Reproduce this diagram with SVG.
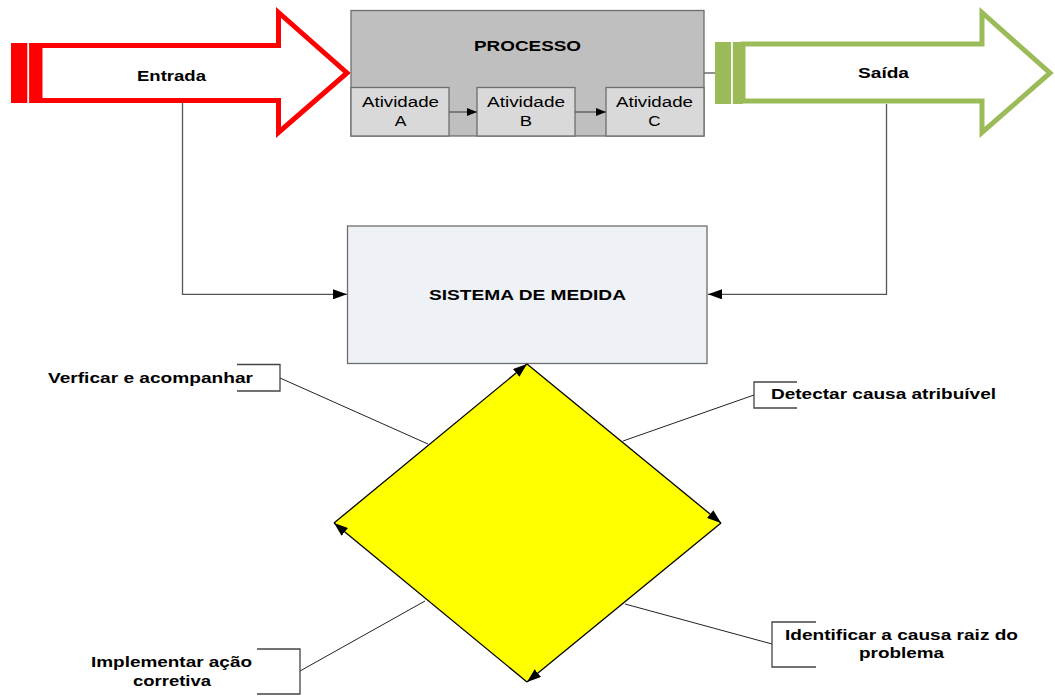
<svg xmlns="http://www.w3.org/2000/svg" width="1055" height="696" viewBox="0 0 1055 696">
<defs>
<style>
.b{font-family:"Liberation Sans",Arial,sans-serif;font-weight:bold;font-size:15.5px;fill:#000}
.r{font-family:"Liberation Sans",Arial,sans-serif;font-size:15.5px;fill:#000}
.ln{fill:none;stroke:#222;stroke-width:1}
.br{fill:none;stroke:#444;stroke-width:1.3}
.cn{fill:none;stroke:#555;stroke-width:1.3}
</style>
<marker id="ah" viewBox="0 0 14 10" refX="14" refY="5" markerWidth="14" markerHeight="10" markerUnits="userSpaceOnUse" orient="auto">
<path d="M0,0 L14,5 L0,10 z" fill="#000"/>
</marker>
<marker id="ahs" viewBox="0 0 10 8" refX="10" refY="4" markerWidth="10" markerHeight="8" markerUnits="userSpaceOnUse" orient="auto">
<path d="M0,0 L10,4 L0,8 z" fill="#000"/>
</marker>
</defs>
<rect width="1055" height="696" fill="#fff"/>

<g id="connectors">
<path class="cn" d="M182.5,103 V294.3 H347" marker-end="url(#ah)"/>
<path class="cn" d="M886.5,104 V294.3 H708" marker-end="url(#ah)"/>
<path class="cn" d="M704,73 H716"/>
<path class="ln" d="M280,378 L428,444"/>
<path class="ln" d="M754,395 L623,441"/>
<path class="ln" d="M300,671 L425,601"/>
<path class="ln" d="M772,644 L625,604"/>
</g>

<g id="entrada">
<polygon points="40,45.5 278.5,45.5 278.5,12.5 347,73 278.5,132.5 278.5,100.5 40,100.5" fill="#fff" stroke="#FF0000" stroke-width="5" stroke-linejoin="miter"/>
<rect x="11" y="43" width="29" height="60" fill="#FF0000"/>
<rect x="27.3" y="43" width="1.8" height="60" fill="#fff"/>
<text class="b" x="171.5" y="81" text-anchor="middle" textLength="69" lengthAdjust="spacingAndGlyphs">Entrada</text>
</g>

<g id="processo">
<rect x="351" y="10.5" width="353" height="125.5" fill="#BFBFBF" stroke="#6E6E6E" stroke-width="1.3"/>
<text class="b" x="527.5" y="50.5" text-anchor="middle" textLength="107" lengthAdjust="spacingAndGlyphs">PROCESSO</text>
</g>

<g id="atividade-a">
<rect x="351" y="87.5" width="98" height="48.5" fill="#D9D9D9" stroke="#6E6E6E" stroke-width="1.3"/>
<text class="r" x="400.5" y="107" text-anchor="middle" textLength="77" lengthAdjust="spacingAndGlyphs">Atividade</text>
<text class="r" x="400.5" y="126" text-anchor="middle" textLength="11.7" lengthAdjust="spacingAndGlyphs">A</text>
</g>
<g id="atividade-b">
<rect x="477" y="87.5" width="98" height="48.5" fill="#D9D9D9" stroke="#6E6E6E" stroke-width="1.3"/>
<text class="r" x="526" y="107" text-anchor="middle" textLength="78" lengthAdjust="spacingAndGlyphs">Atividade</text>
<text class="r" x="526" y="126" text-anchor="middle" textLength="12.3" lengthAdjust="spacingAndGlyphs">B</text>
</g>
<g id="atividade-c">
<rect x="606" y="87.5" width="98" height="48.5" fill="#D9D9D9" stroke="#6E6E6E" stroke-width="1.3"/>
<text class="r" x="654.5" y="107" text-anchor="middle" textLength="77" lengthAdjust="spacingAndGlyphs">Atividade</text>
<text class="r" x="654.5" y="126" text-anchor="middle" textLength="12.3" lengthAdjust="spacingAndGlyphs">C</text>
</g>
<g id="activity-links">
<path class="cn" d="M449,112 H477" marker-end="url(#ahs)"/>
<path class="cn" d="M575,112 H606" marker-end="url(#ahs)"/>
</g>

<g id="saida">
<polygon points="743,44 982,44 982,12.5 1050,73 982,132.5 982,101 743,101" fill="#fff" stroke="#9BBB59" stroke-width="5" stroke-linejoin="miter"/>
<rect x="715" y="42" width="28" height="62" fill="#9BBB59"/>
<rect x="731" y="42" width="1.8" height="62" fill="#fff"/>
<text class="b" x="883.5" y="77.5" text-anchor="middle" textLength="51" lengthAdjust="spacingAndGlyphs">Saída</text>
</g>

<g id="sistema">
<rect x="347.5" y="226" width="359.5" height="137.5" fill="#EEF1F6" stroke="#6E6E6E" stroke-width="1.3"/>
<text class="b" x="527.5" y="299.5" text-anchor="middle" textLength="197" lengthAdjust="spacingAndGlyphs">SISTEMA DE MEDIDA</text>
</g>

<g id="ciclo">
<polygon points="527,364 721,523 527,682 334,523" fill="#FFFF00" stroke="none"/>
<path d="M334,523 L527,364" stroke="#000" stroke-width="1.3" fill="none" marker-end="url(#ah)"/>
<path d="M527,364 L721,523" stroke="#000" stroke-width="1.3" fill="none" marker-end="url(#ah)"/>
<path d="M721,523 L527,682" stroke="#000" stroke-width="1.3" fill="none" marker-end="url(#ah)"/>
<path d="M527,682 L334,523" stroke="#000" stroke-width="1.3" fill="none" marker-end="url(#ah)"/>
</g>

<g id="verificar">
<path class="br" d="M237,364.5 H280 V391 H237"/>
<text class="b" x="48" y="383" textLength="205" lengthAdjust="spacingAndGlyphs">Verficar e acompanhar</text>
</g>

<g id="detectar">
<path class="br" d="M797,382 H754 V408 H797"/>
<text class="b" x="771" y="399" textLength="225" lengthAdjust="spacingAndGlyphs">Detectar causa atribuível</text>
</g>

<g id="implementar">
<path class="br" d="M257,649 H300 V694 H257"/>
<text class="b" x="171.5" y="667" text-anchor="middle" textLength="161" lengthAdjust="spacingAndGlyphs">Implementar ação</text>
<text class="b" x="172" y="686" text-anchor="middle" textLength="78" lengthAdjust="spacingAndGlyphs">corretiva</text>
</g>

<g id="identificar">
<path class="br" d="M816,622 H772 V667 H816"/>
<text class="b" x="901.5" y="640" text-anchor="middle" textLength="233" lengthAdjust="spacingAndGlyphs">Identificar a causa raiz do</text>
<text class="b" x="901.5" y="658" text-anchor="middle" textLength="85" lengthAdjust="spacingAndGlyphs">problema</text>
</g>
</svg>
